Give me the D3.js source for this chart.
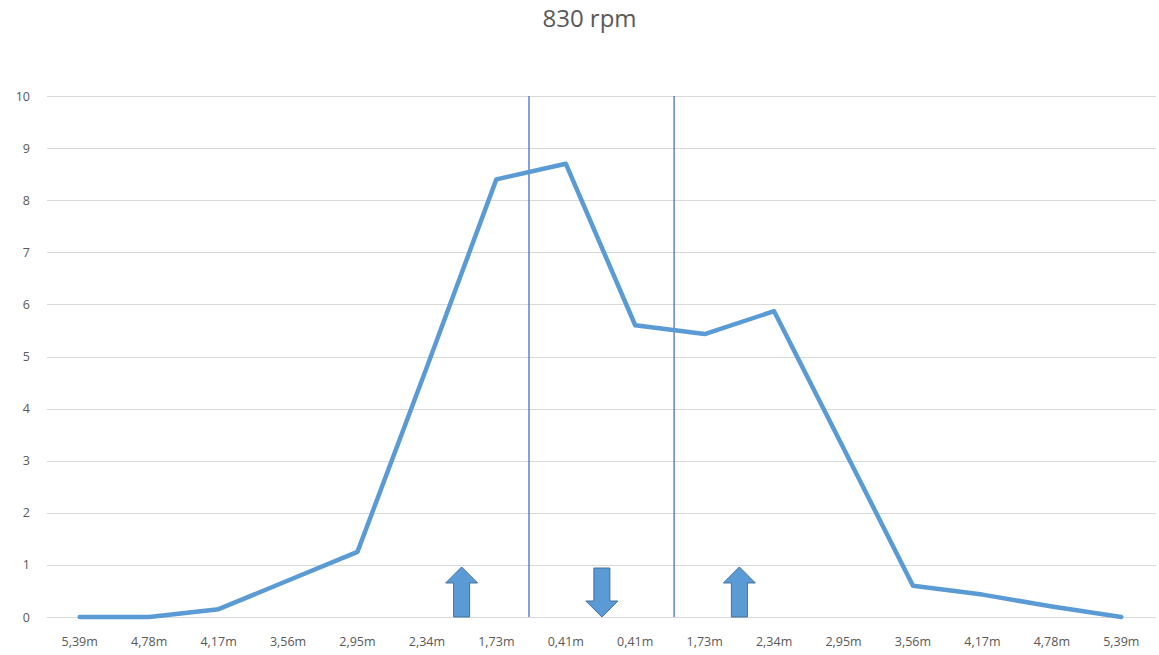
<!DOCTYPE html>
<html>
<head>
<meta charset="utf-8">
<script src="https://cdn.jsdelivr.net/npm/d3@7"></script>
<style>
  html, body { margin: 0; padding: 0; background: #fff; }
  svg { display: block; font-family: "Open Sans", "Liberation Sans", sans-serif; }
</style>
</head>
<body>
<svg id="chart" width="1159" height="655"></svg>
<script>
const title = "830 rpm";
const categories = ["5,39m","4,78m","4,17m","3,56m","2,95m","2,34m","1,73m","0,41m",
                    "0,41m","1,73m","2,34m","2,95m","3,56m","4,17m","4,78m","5,39m"];
const values = [0, 0, 0.15, 0.7, 1.25, 4.8, 8.4, 8.7, 5.6, 5.43, 5.87, 3.24, 0.6, 0.43, 0.2, 0];
const yTicks = [0,1,2,3,4,5,6,7,8,9,10];
// vertical divider lines, in category-index units
const dividers = [6.47, 8.56];
// arrows: position in category-index units, direction
const arrowPos = [5.5, 7.52, 9.5];
const arrowDir = ["up", "down", "up"];
const arrowTop = [0.96, 0.94, 0.96];

(function () {
const svg = d3.select("#chart");
const mLeft = 45, mRight = 1156, mTop = 96, mBottom = 617;

const xBand = d3.scaleBand().domain(d3.range(categories.length)).range([mLeft, mRight]).padding(0);
const xIdx = d3.scaleLinear().domain([0, categories.length - 1])
  .range([xBand(0) + xBand.bandwidth()/2, xBand(categories.length-1) + xBand.bandwidth()/2]);
const y = d3.scaleLinear().domain([0, 10]).range([mBottom, mTop]);

// title
svg.append("text").attr("x", 589.5).attr("y", 27).attr("text-anchor", "middle")
  .attr("font-size", 24).attr("fill", "#595959").text(title);

// gridlines
svg.append("g").selectAll("line").data(yTicks).join("line")
  .attr("x1", mLeft + 2).attr("x2", mRight)
  .attr("y1", d => Math.round(y(d)) + 0.5).attr("y2", d => Math.round(y(d)) + 0.5)
  .attr("stroke", "#d9d9d9").attr("stroke-width", 1);

// y axis labels
const yAxis = d3.axisLeft(y).tickValues(yTicks).tickSize(0).tickPadding(0);
const gy = svg.append("g").attr("transform", `translate(${mLeft - 15},0)`).call(yAxis);
gy.select(".domain").remove();
gy.selectAll("text").attr("font-size", 12.5).attr("fill", "#595959")
  .attr("font-family", "\"Open Sans\", sans-serif");

// x axis labels
const xAxis = d3.axisBottom(xBand).tickFormat(i => categories[i]).tickSize(0).tickPadding(0);
const gx = svg.append("g").attr("transform", `translate(0,${mBottom + 20})`).call(xAxis);
gx.select(".domain").remove();
gx.selectAll("text").attr("font-size", 12.5).attr("fill", "#595959")
  .attr("font-family", "\"Open Sans\", sans-serif");

// divider lines
svg.append("g").selectAll("line").data(dividers).join("line")
  .attr("x1", d => xIdx(d)).attr("x2", d => xIdx(d))
  .attr("y1", y(10)).attr("y2", y(0))
  .attr("stroke", "#4472C4").attr("stroke-width", 1.3);

// arrows
const bodyW = 16, headW = 32, headH = 16;
arrowPos.forEach((p, i) => {
  const cx = xIdx(p);
  const t = y(arrowTop[i]), b = y(0);
  let pts;
  if (arrowDir[i] === "up") {
    pts = [[cx, t], [cx + headW/2, t + headH], [cx + bodyW/2, t + headH], [cx + bodyW/2, b],
           [cx - bodyW/2, b], [cx - bodyW/2, t + headH], [cx - headW/2, t + headH]];
  } else {
    pts = [[cx - bodyW/2, t], [cx + bodyW/2, t], [cx + bodyW/2, b - headH], [cx + headW/2, b - headH],
           [cx, b], [cx - headW/2, b - headH], [cx - bodyW/2, b - headH]];
  }
  svg.append("polygon").attr("points", pts.map(q => q.join(",")).join(" "))
    .attr("fill", "#5B9BD5").attr("stroke", "#41719C").attr("stroke-width", 1);
});

// line
const line = d3.line().x((d, i) => xIdx(i)).y(d => y(d));
svg.append("path").datum(values).attr("d", line)
  .attr("fill", "none").attr("stroke", "#5B9BD5").attr("stroke-width", 4.5)
  .attr("stroke-linejoin", "round").attr("stroke-linecap", "round");
})();
</script>
</body>
</html>
